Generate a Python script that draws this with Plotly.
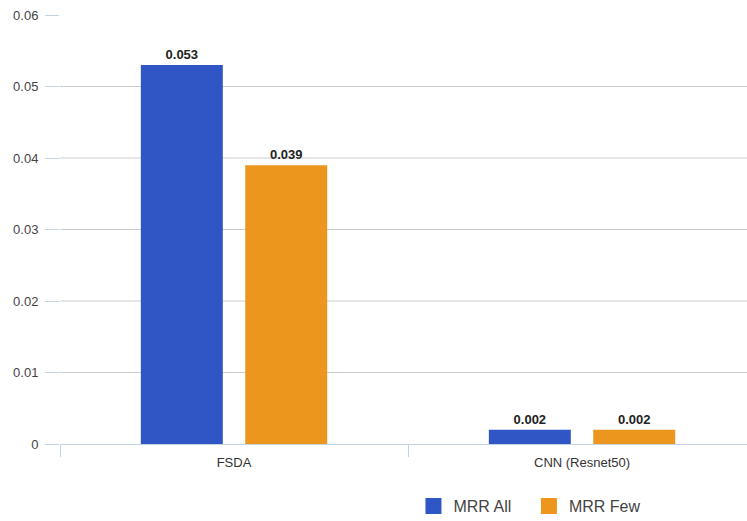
import plotly.graph_objects as go

# Retrieval quality (MRR) per model
models = ["FSDA", "CNN (Resnet50)"]
mrr_all = [0.053, 0.002]
mrr_few = [0.039, 0.002]

y_ticks = [0, 0.01, 0.02, 0.03, 0.04, 0.05, 0.06]
y_tick_text = ["0", "0.01", "0.02", "0.03", "0.04", "0.05", "0.06"]
grid_values = [0.01, 0.02, 0.03, 0.04, 0.05]

BLUE = "#3056c6"
ORANGE = "#ec961e"
AXIS_BLUE = "#c3d3e6"
FONT = "Liberation Sans, Arial, sans-serif"

series = [
    ("MRR All", mrr_all, BLUE, "legend", 0.5145),
    ("MRR Few", mrr_few, ORANGE, "legend2", 0.6826),
]

fig = go.Figure()
for name, vals, color, leg, _ in series:
    fig.add_trace(go.Bar(
        name=name, x=models, y=vals, legendgroup=name, showlegend=False,
        marker=dict(color=color, line=dict(width=0)),
        text=[f"{v:.3f}" for v in vals],
        textposition="outside",
        textfont=dict(family=FONT, size=13, color="#222222"),
        texttemplate="<b>%{text}</b>",
        cliponaxis=False,
    ))

# legend entries with larger square swatches, tied to the bar traces
for name, vals, color, leg, _ in series:
    fig.add_trace(go.Scatter(
        name=name, x=[None], y=[None], mode="markers", legendgroup=name,
        legend=leg, showlegend=True,
        marker=dict(symbol="square", size=16, color=color, line=dict(width=0)),
    ))

# horizontal grid lines (none at the top of the range)
for g in grid_values:
    fig.add_shape(type="line", xref="paper", yref="y", x0=0, x1=1, y0=g, y1=g,
                  line=dict(color="#cccccc", width=1), layer="below")

legend_common = dict(orientation="h", y=-0.145, xanchor="left", yanchor="middle",
                     font=dict(size=16, color="#444444"), itemwidth=30,
                     bgcolor="rgba(0,0,0,0)")

fig.update_layout(
    width=747, height=521,
    margin=dict(l=60, r=0, t=15, b=77, autoexpand=False),
    paper_bgcolor="white", plot_bgcolor="white",
    font=dict(family=FONT, color="#444444"),
    barmode="group", bargap=0.40, bargroupgap=0.215,
    showlegend=True,
    legend=dict(x=series[0][4], **legend_common),
    legend2=dict(x=series[1][4], **legend_common),
    xaxis=dict(
        range=[-0.5, 1.474], showgrid=False, zeroline=False,
        showline=True, linecolor=AXIS_BLUE, linewidth=1,
        ticks="outside", tickson="boundaries", ticklen=12, tickcolor=AXIS_BLUE,
        tickfont=dict(size=13, color="#333333"), ticklabelstandoff=6,
        automargin=False,
    ),
    yaxis=dict(
        range=[0, 0.06], tickvals=y_ticks, ticktext=y_tick_text,
        showgrid=False, zeroline=False, showline=False,
        ticks="outside", ticklen=14, tickcolor=AXIS_BLUE,
        tickfont=dict(size=13, color="#444444"), ticklabelstandoff=4,
        automargin=False,
    ),
)

fig.write_html("out.html")
